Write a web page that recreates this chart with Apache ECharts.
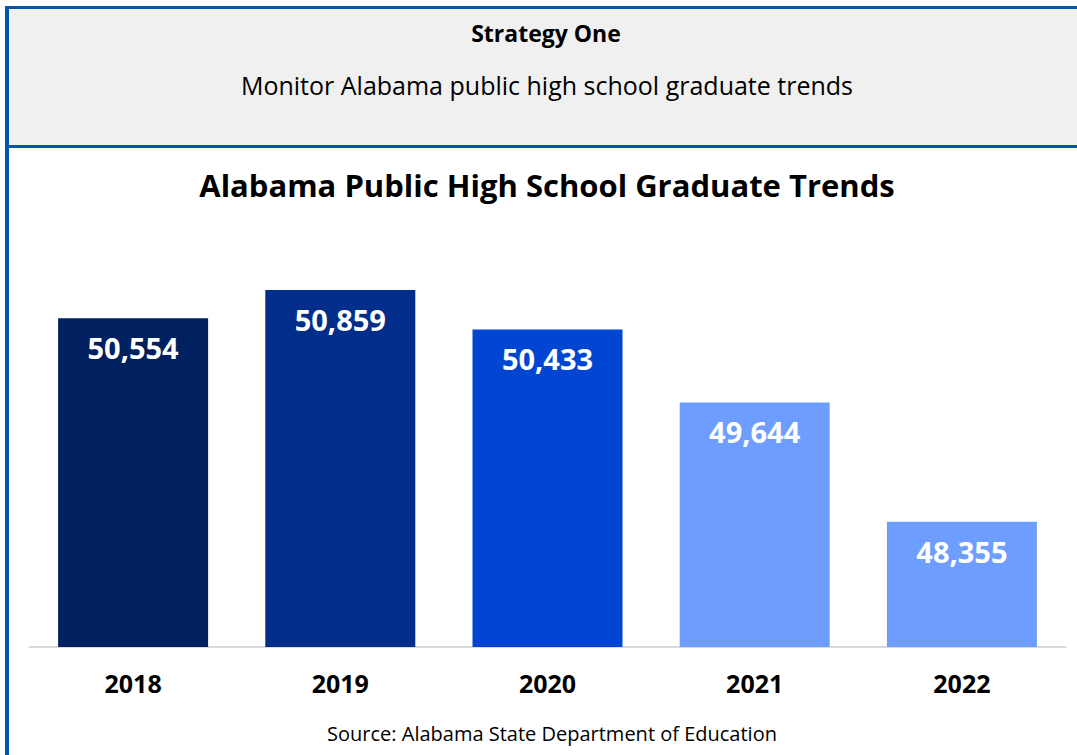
<!DOCTYPE html>
<html>
<head>
<meta charset="utf-8">
<script src="https://cdn.jsdelivr.net/npm/echarts@6/dist/echarts.min.js"></script>
<style>
html,body{margin:0;padding:0;background:#fff;}
#chart{width:1077px;height:755px;}
</style>
</head>
<body>
<div id="chart"></div>
<script>
const years = ['2018', '2019', '2020', '2021', '2022'];
const graduates = [50554, 50859, 50433, 49644, 48355];
const barColors = ['#002060', '#002E8A', '#0046D2', '#6D9EFF', '#6D9EFF'];
const headerTitle = 'Strategy One';
const headerSubtitle = 'Monitor Alabama public high school graduate trends';
const chartTitle = 'Alabama Public High School Graduate Trends';
const sourceText = 'Source: Alabama State Department of Education';

const FONT = '"Open Sans", Lato, sans-serif';
const chart = echarts.init(document.getElementById('chart'), null, {renderer: 'svg'});
chart.setOption({
  backgroundColor: '#fff',
  animation: false,
  graphic: [
    {type: 'rect', z: -10, shape: {x: 7, y: 7, width: 1080, height: 140},
     style: {fill: '#F0F0F0', stroke: null}},
    {type: 'rect', z: 10, shape: {x: 5, y: 6, width: 1080, height: 3}, style: {fill: '#0057A8'}},
    {type: 'rect', z: 10, shape: {x: 5, y: 145, width: 1080, height: 3}, style: {fill: '#0057A8'}},
    {type: 'rect', z: 10, shape: {x: 5, y: 6, width: 4, height: 760}, style: {fill: '#0057A8'}},
    {type: 'text', z: 11, style: {text: headerTitle, x: 546, y: 33, align: 'center', verticalAlign: 'middle',
      font: 'bold 23px ' + FONT, fill: '#000'}},
    {type: 'text', z: 11, style: {text: headerSubtitle, x: 547, y: 85, align: 'center', verticalAlign: 'middle',
      font: '25px ' + FONT, fill: '#000'}},
    {type: 'text', z: 11, style: {text: chartTitle, x: 547, y: 185, align: 'center', verticalAlign: 'middle',
      font: 'bold 31px ' + FONT, fill: '#000'}},
    {type: 'text', z: 11, style: {text: sourceText, x: 552, y: 733, align: 'center', verticalAlign: 'middle',
      font: '20px ' + FONT, fill: '#000'}}
  ],
  grid: {left: 29.5, right: 11.5, top: 277, bottom: 108},
  xAxis: {
    type: 'category', data: years,
    axisLine: {show: true, lineStyle: {color: '#D9D9D9', width: 2}},
    axisTick: {show: false},
    axisLabel: {margin: 23, fontFamily: FONT, fontWeight: 'bold', fontSize: 25, color: '#000'}
  },
  yAxis: {type: 'value', min: 47000, max: 51000, show: false, splitLine: {show: false}},
  series: [{
    type: 'bar', barWidth: 150,
    data: graduates.map((v, i) => ({value: v, itemStyle: {color: barColors[i]}})),
    label: {show: true, position: 'insideTop', distance: 15,
      formatter: p => p.value.toLocaleString('en-US'),
      fontFamily: FONT, fontWeight: 'bold', fontSize: 29, color: '#fff'}
  }]
});
</script>
</body>
</html>
